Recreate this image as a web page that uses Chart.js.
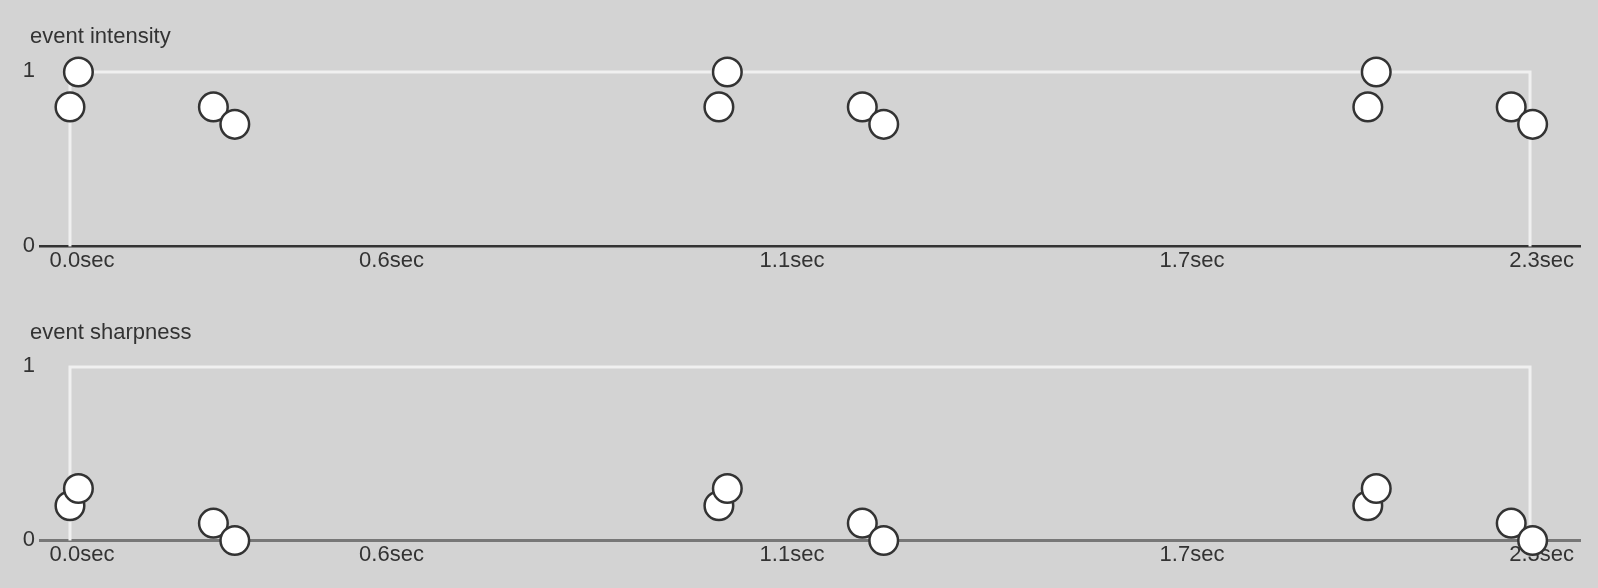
<!DOCTYPE html>
<html>
<head>
<meta charset="utf-8">
<script src="https://cdn.jsdelivr.net/npm/chart.js@4"></script>
<style>
  html, body { margin: 0; padding: 0; background: #d3d3d3; }
  body { width: 1598px; height: 588px; overflow: hidden; position: relative; }
  canvas { position: absolute; left: 0; }
  #chartIntensity { top: 0; }
  #chartSharpness { top: 294px; }
  .title {
    position: absolute; left: 30px;
    font: 22px/26.4px 'Liberation Sans', Arial, sans-serif;
    color: #333; white-space: nowrap;
  }
</style>
</head>
<body>
<canvas id="chartIntensity" width="1598" height="294"></canvas>
<canvas id="chartSharpness" width="1598" height="294"></canvas>
<div class="title" style="top:22.8px">event intensity</div>
<div class="title" style="top:318.6px">event sharpness</div>
<script>
// Haptic pattern events (seconds)
const eventTimes = [0, 0.013, 0.221, 0.254, 1.0, 1.013, 1.221, 1.254, 2.0, 2.013, 2.221, 2.254];
const intensity = [0.8, 1, 0.8, 0.7, 0.8, 1, 0.8, 0.7, 0.8, 1, 0.8, 0.7];
const sharpness = [0.2, 0.3, 0.1, 0, 0.2, 0.3, 0.1, 0, 0.2, 0.3, 0.1, 0];
const duration = 2.25;

// x tick labels and where they sit on the time axis
const tickLabels = ['0.0sec', '0.6sec', '1.1sec', '1.7sec', '2.3sec'];
const tickAt = [0.0185, 0.4955, 1.1127, 1.7291, 2.2678];
const yTicks = [0, 1];

// time axis range (a bit of room either side of the pattern)
const xMin = -0.0462;
const xMax = 2.327;

const fontFamily = "'Liberation Sans', Arial, sans-serif";
const textColor = '#333';

// white frame around the 0..duration / 0..1 box
const framePlugin = {
    id: 'frame',
    beforeDatasetsDraw(chart) {
        const { ctx, scales: { x, y } } = chart;
        const x0 = x.getPixelForValue(0);
        const x1 = x.getPixelForValue(duration);
        const y0 = y.getPixelForValue(0);
        const y1 = y.getPixelForValue(1);
        ctx.save();
        ctx.strokeStyle = '#f0f0f0';
        ctx.lineWidth = 3;
        ctx.beginPath();
        ctx.moveTo(x0, y0);
        ctx.lineTo(x0, y1);
        ctx.lineTo(x1, y1);
        ctx.lineTo(x1, y0);
        ctx.stroke();
        ctx.restore();
    }
};

setupChart = (id, values, axisColor, axisWidth, padTop) => {
    const points = eventTimes.map((t, i) => ({ x: t, y: values[i] }));

    const config = {
        type: 'scatter',
        data: {
            datasets: [
                {
                    data: points,
                    backgroundColor: '#ffffff',
                    borderColor: '#333333',
                    borderWidth: 2.5,
                    pointRadius: 14.3,
                    pointHoverRadius: 14.3,
                    clip: false,
                },
            ],
        },
        options: {
            responsive: false,
            animation: false,
            events: [],
            layout: { padding: { left: 0, right: 18, top: padTop, bottom: 0 } },
            plugins: {
                legend: { display: false },
                tooltip: { enabled: false },
                title: { display: false },
            },
            scales: {
                x: {
                    type: 'linear',
                    min: xMin,
                    max: xMax,
                    z: 1,
                    grid: { display: false, drawTicks: false },
                    border: { display: true, color: axisColor, width: axisWidth },
                    afterBuildTicks: (s) => { s.ticks = tickAt.map(v => ({ value: v })); },
                    afterFit: (s) => { s.height = 47.5; },
                    ticks: {
                        autoSkip: false,
                        maxRotation: 0,
                        padding: 1,
                        color: textColor,
                        font: { family: fontFamily, size: 22 },
                        callback: (v, i) => tickLabels[i],
                    },
                },
                y: {
                    type: 'linear',
                    min: 0,
                    max: 1,
                    grid: { display: false, drawTicks: false },
                    border: { display: false },
                    afterBuildTicks: (s) => { s.ticks = yTicks.map(v => ({ value: v })); },
                    afterFit: (s) => { s.width = 40; },
                    ticks: {
                        padding: 5,
                        labelOffset: -1,
                        color: textColor,
                        font: { family: fontFamily, size: 22 },
                        callback: (v) => String(v),
                    },
                },
            },
        },
        plugins: [framePlugin],
    };

    return new Chart(document.getElementById(id), config);
};

setupChart('chartIntensity', intensity, '#333333', 2.5, 72);
setupChart('chartSharpness', sharpness, '#777777', 3, 73);
</script>
</body>
</html>
